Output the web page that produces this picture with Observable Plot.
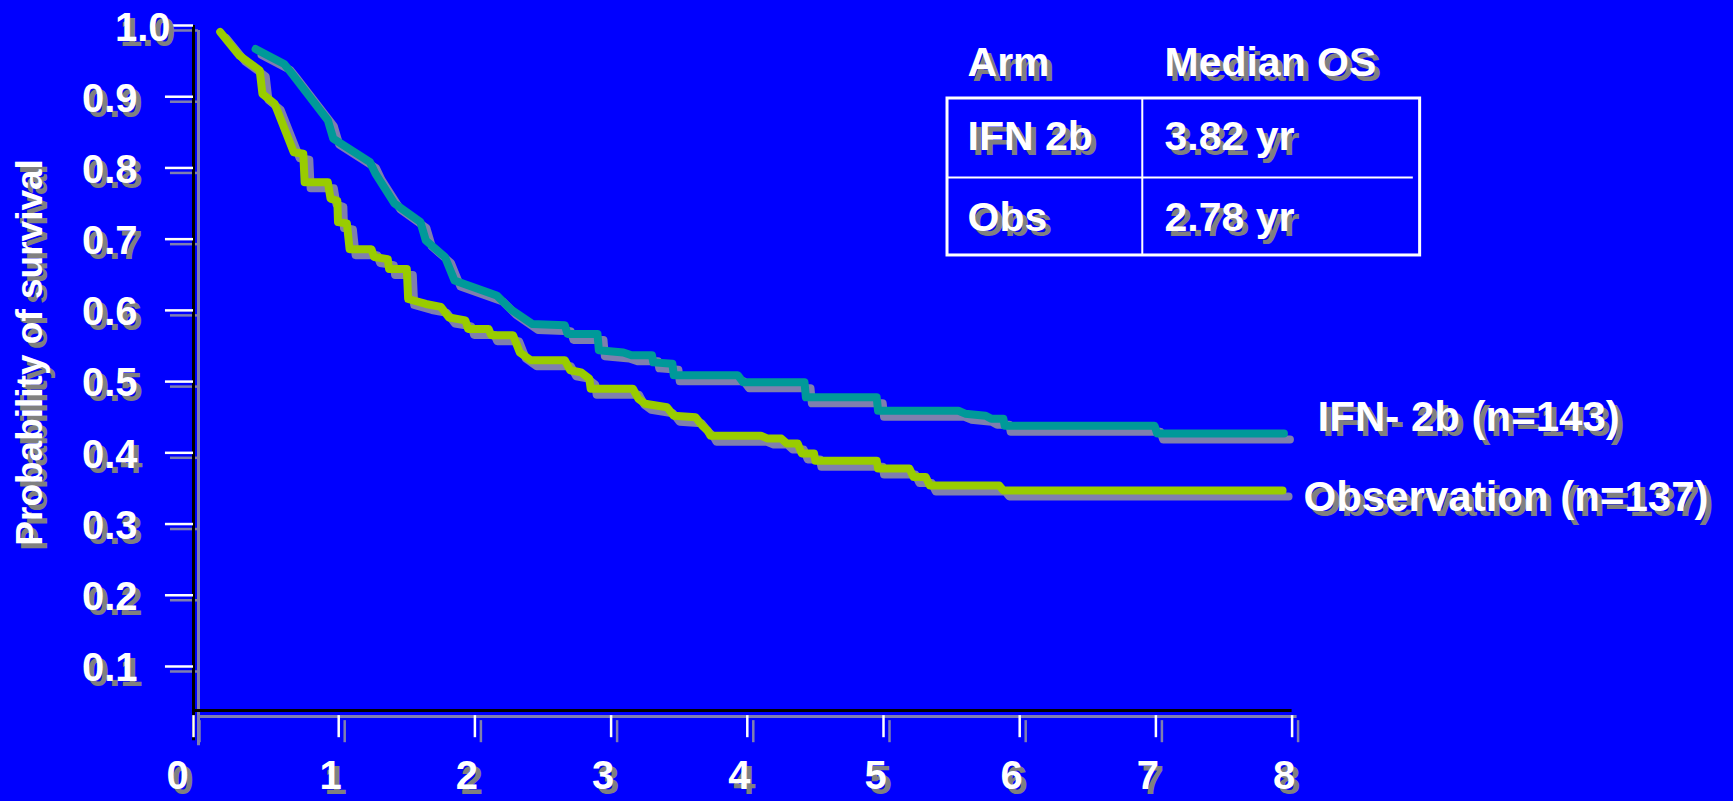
<!DOCTYPE html>
<html>
<head>
<meta charset="utf-8">
<script src="https://cdn.jsdelivr.net/npm/d3@7"></script>
<script src="https://cdn.jsdelivr.net/npm/@observablehq/plot@0.6"></script>
<style>
  html, body { margin: 0; padding: 0; background: #0000ff; overflow: hidden; }
  #chart svg { display: block; }
</style>
</head>
<body>
<div id="chart"></div>
<script>
// ---- Data ----
const yearTicks = [0, 1, 2, 3, 4, 5, 6, 7, 8];
const probTicks = [0.1, 0.2, 0.3, 0.4, 0.5, 0.6, 0.7, 0.8, 0.9];
const topTick = [1.0];

const ifnYears = [0.39, 0.60, 0.65, 0.92, 0.96, 1.23, 1.27, 1.41, 1.60, 1.64, 1.78, 1.85, 2.16, 2.26, 2.42, 2.66, 2.68, 2.90, 2.91, 3.09, 3.15, 3.30, 3.31, 3.45, 3.46, 3.93, 3.97, 4.42, 4.43, 4.95, 4.96, 5.55, 5.60, 5.75, 5.79, 5.88, 5.89, 6.99, 7.01, 7.94];
const ifnSurv  = [0.967, 0.946, 0.934, 0.867, 0.841, 0.808, 0.792, 0.750, 0.724, 0.698, 0.675, 0.642, 0.621, 0.602, 0.581, 0.579, 0.567, 0.567, 0.544, 0.541, 0.537, 0.537, 0.527, 0.525, 0.509, 0.509, 0.499, 0.499, 0.478, 0.478, 0.459, 0.459, 0.455, 0.452, 0.448, 0.448, 0.438, 0.438, 0.427, 0.427];

const obsYears = [0.13, 0.27, 0.42, 0.44, 0.53, 0.67, 0.74, 0.75, 0.92, 0.94, 0.99, 0.995, 1.06, 1.08, 1.24, 1.26, 1.36, 1.37, 1.50, 1.51, 1.64, 1.75, 1.81, 1.93, 1.95, 2.10, 2.12, 2.28, 2.33, 2.41, 2.66, 2.70, 2.78, 2.84, 2.85, 3.16, 3.20, 3.25, 3.41, 3.44, 3.46, 3.62, 3.67, 3.71, 3.73, 4.10, 4.15, 4.25, 4.29, 4.37, 4.40, 4.49, 4.50, 4.95, 4.96, 5.19, 5.22, 5.31, 5.34, 5.85, 5.88, 7.93];
const obsSurv  = [0.991, 0.958, 0.937, 0.904, 0.890, 0.822, 0.820, 0.780, 0.780, 0.757, 0.754, 0.724, 0.722, 0.686, 0.686, 0.675, 0.672, 0.658, 0.658, 0.616, 0.609, 0.605, 0.590, 0.586, 0.574, 0.574, 0.565, 0.565, 0.541, 0.530, 0.530, 0.516, 0.513, 0.504, 0.490, 0.490, 0.476, 0.469, 0.464, 0.457, 0.452, 0.450, 0.438, 0.431, 0.424, 0.424, 0.420, 0.420, 0.413, 0.413, 0.399, 0.399, 0.389, 0.389, 0.378, 0.378, 0.366, 0.366, 0.354, 0.354, 0.347, 0.347];

const tableHeader = ["Arm", "Median OS"];
const tableArms = ["IFN 2b", "Obs"];
const tableMedians = ["3.82 yr", "2.78 yr"];
const seriesLabels = ["IFN- 2b (n=143)", "Observation (n=137)"];

// ---- Build tables for the library ----
const ifn = ifnYears.map((t, i) => ({t, s: ifnSurv[i]}));
const obs = obsYears.map((t, i) => ({t, s: obsSurv[i]}));

const X0 = -0.0661;          // position of the vertical axis line
const Y0 = 0.0382;           // position of the horizontal axis line
const WHITE = "#ffffff";
const SHADOW = "#808080";
const LINE_SHADOW = "#7f7fae";
const FONT = "'Liberation Sans', Arial, Helvetica, sans-serif";

// tick at 0 sits on the vertical axis line in the original
const tickPos = d => (d === 0 ? X0 : d);

function shadowText(data, opts, off = 5) {
  return [
    Plot.text(data, {...opts, fill: SHADOW, dx: (opts.dx || 0) + off, dy: (opts.dy || 0) + off}),
    Plot.text(data, {...opts, fill: WHITE})
  ];
}

const tableRows = [0, 1];
const rowY = [0.843, 0.730];

const chart = Plot.plot({
  width: 1733,
  height: 801,
  marginLeft: 193,
  marginRight: 441.4,
  marginTop: 25,
  marginBottom: 91,
  x: {domain: [X0, 8], axis: null},
  y: {domain: [Y0, 1.0], axis: null},
  style: {background: "#0000ff", fontFamily: FONT, fontWeight: "bold", overflow: "visible", color: "white"},
  marks: [
    // axis shadows
    Plot.ruleX([X0], {x: d => d, y1: -0.0042, y2: 1.0, stroke: LINE_SHADOW, strokeWidth: 3, dx: 5, dy: 5}),
    Plot.ruleY([Y0], {y: d => d, x1: X0, x2: 8.0, stroke: LINE_SHADOW, strokeWidth: 3, dx: 5, dy: 6}),
    Plot.ruleY([...probTicks, ...topTick], {y: d => d, x1: -0.272, x2: X0, stroke: LINE_SHADOW, strokeWidth: 2.5, dx: 5, dy: 5}),
    Plot.ruleX(yearTicks, {x: tickPos, y1: 0.031, y2: 0.0, stroke: LINE_SHADOW, strokeWidth: 2.5, dx: 6, dy: 5}),

    // curve shadows
    Plot.line(obs, {x: "t", y: "s", stroke: LINE_SHADOW, strokeWidth: 8, strokeLinecap: "round", strokeLinejoin: "round", dx: 6, dy: 6}),
    Plot.line(ifn, {x: "t", y: "s", stroke: LINE_SHADOW, strokeWidth: 8, strokeLinecap: "round", strokeLinejoin: "round", dx: 6, dy: 6}),

    // axis lines
    Plot.ruleX([X0], {x: d => d, y1: -0.0042, y2: 1.0, stroke: "black", strokeWidth: 3}),
    Plot.ruleY([Y0], {y: d => d, x1: X0, x2: 8.0, stroke: "black", strokeWidth: 3}),
    Plot.ruleY([...probTicks, ...topTick], {y: d => d, x1: -0.272, x2: X0, stroke: WHITE, strokeWidth: 2.5}),
    Plot.ruleX(yearTicks, {x: tickPos, y1: 0.031, y2: 0.0, stroke: WHITE, strokeWidth: 2.5}),

    // curves
    Plot.line(obs, {x: "t", y: "s", stroke: "#99cc00", strokeWidth: 8, strokeLinecap: "round", strokeLinejoin: "round"}),
    Plot.line(ifn, {x: "t", y: "s", stroke: "#009999", strokeWidth: 8, strokeLinecap: "round", strokeLinejoin: "round"}),

    // tick labels
    ...shadowText(probTicks, {x: () => X0, y: d => d, text: d => d.toFixed(1), textAnchor: "end", dx: -56, dy: 2, fontSize: 40, fontWeight: "bold", fontFamily: FONT}),
    ...shadowText(topTick, {x: () => X0, y: d => d, text: d => d.toFixed(1), textAnchor: "end", dx: -23, dy: 3, fontSize: 40, fontWeight: "bold", fontFamily: FONT}),
    ...shadowText(yearTicks.filter(d => d !== 0), {x: d => d, y: () => Y0, text: d => String(d), textAnchor: "middle", dx: -8, dy: 66, fontSize: 40, fontWeight: "bold", fontFamily: FONT}),
    ...shadowText(yearTicks.filter(d => d === 0), {x: () => X0, y: () => Y0, text: d => String(d), textAnchor: "middle", dx: -16, dy: 66, fontSize: 40, fontWeight: "bold", fontFamily: FONT}),

    // y-axis title
    ...shadowText(["Probability of survival"], {x: () => X0, y: () => 0.541, text: d => d, rotate: -90, textAnchor: "middle", dx: -163, fontSize: 37, fontWeight: "bold", fontFamily: FONT}),

    // median OS table
    Plot.rect([0], {x1: () => 5.47, x2: () => 8.94, y1: () => 0.6771, y2: () => 0.8975, fill: "none", stroke: WHITE, strokeWidth: 3}),
    Plot.ruleX([6.90], {x: d => d, y1: 0.6771, y2: 0.8975, stroke: WHITE, strokeWidth: 2}),
    Plot.ruleY([0.7865], {y: d => d, x1: 5.47, x2: 8.89, stroke: WHITE, strokeWidth: 2}),
    ...shadowText([0], {x: () => 5.617, y: () => 0.948, text: () => tableHeader[0], textAnchor: "start", fontSize: 41, fontWeight: "bold", fontFamily: FONT}),
    ...shadowText([0], {x: () => 7.063, y: () => 0.948, text: () => tableHeader[1], textAnchor: "start", fontSize: 41, fontWeight: "bold", fontFamily: FONT}),
    ...shadowText(tableRows, {x: () => 5.617, y: i => rowY[i], text: i => tableArms[i], textAnchor: "start", fontSize: 41, fontWeight: "bold", fontFamily: FONT}),
    ...shadowText(tableRows, {x: () => 7.063, y: i => rowY[i], text: i => tableMedians[i], textAnchor: "start", fontSize: 41, fontWeight: "bold", fontFamily: FONT}),

    // series labels
    ...shadowText([0], {x: () => 8.187, y: () => 0.4496, text: () => seriesLabels[0], textAnchor: "start", fontSize: 42, fontWeight: "bold", fontFamily: FONT}),
    ...shadowText([0], {x: () => 8.084, y: () => 0.337, text: () => seriesLabels[1], textAnchor: "start", fontSize: 42, fontWeight: "bold", fontFamily: FONT})
  ]
});

document.getElementById("chart").appendChild(chart);
</script>
</body>
</html>
